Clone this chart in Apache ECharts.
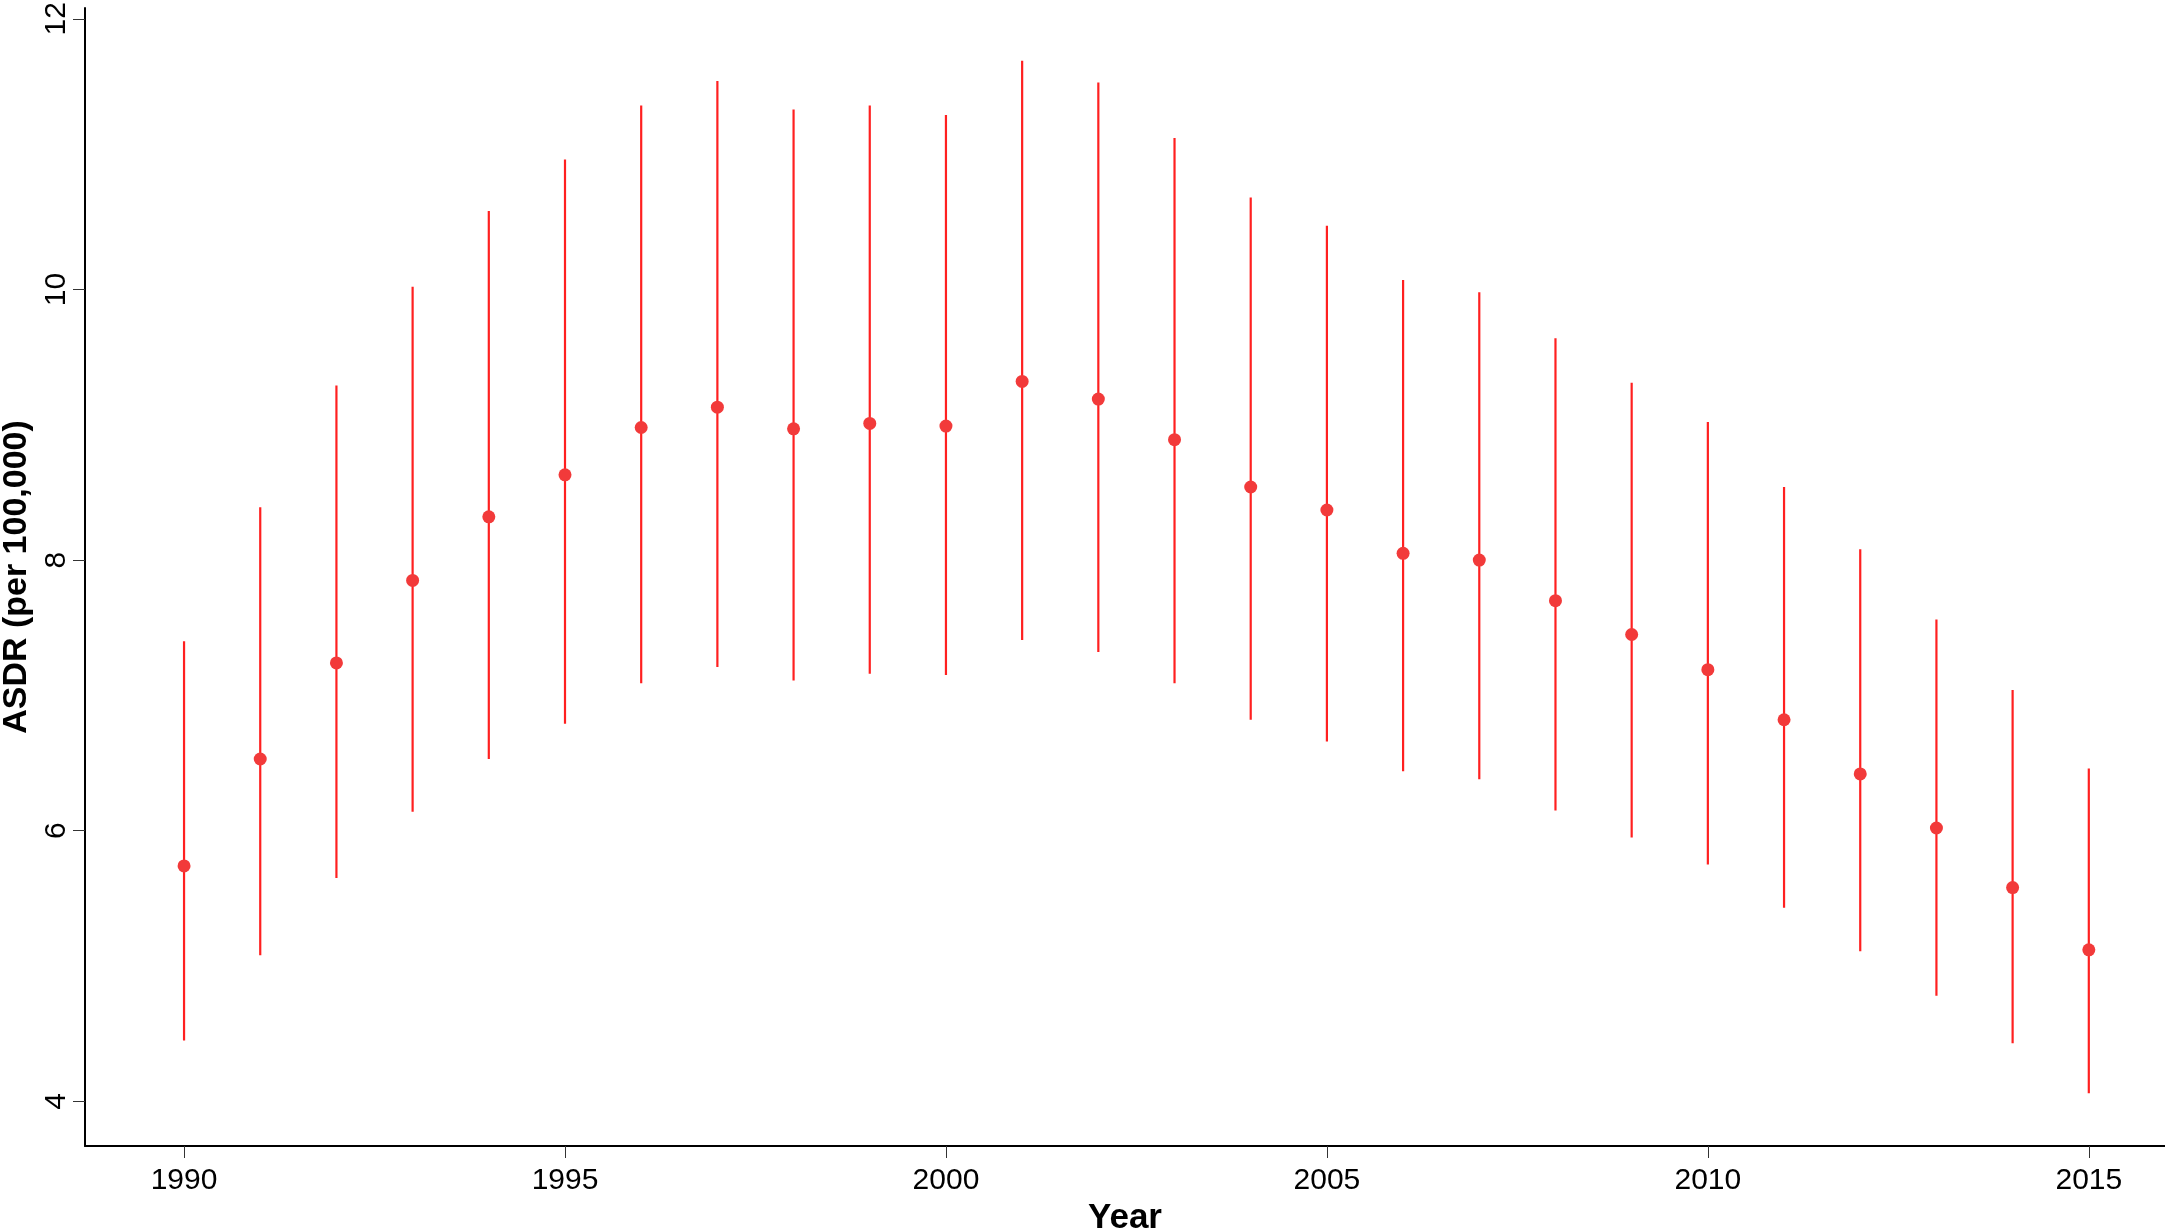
<!DOCTYPE html>
<html>
<head>
<meta charset="utf-8">
<script src="https://cdn.jsdelivr.net/npm/echarts@6/dist/echarts.min.js"></script>
<style>
html,body{margin:0;padding:0;background:#fff;}
#chart{width:2165px;height:1231px;}
</style>
</head>
<body>
<div id="chart"></div>
<script>
const years = [1990,1991,1992,1993,1994,1995,1996,1997,1998,1999,2000,2001,2002,2003,2004,2005,2006,2007,2008,2009,2010,2011,2012,2013,2014,2015];
const asdr  = [5.74,6.53,7.24,7.85,8.32,8.63,8.98,9.13,8.97,9.01,8.99,9.32,9.19,8.89,8.54,8.37,8.05,8.00,7.70,7.45,7.19,6.82,6.42,6.02,5.58,5.12];
const upper = [7.40,8.39,9.29,10.02,10.58,10.96,11.36,11.54,11.33,11.36,11.29,11.69,11.53,11.12,10.68,10.47,10.07,9.98,9.64,9.31,9.02,8.54,8.08,7.56,7.04,6.46];
const lower = [4.45,5.08,5.65,6.14,6.53,6.79,7.09,7.21,7.11,7.16,7.15,7.41,7.32,7.09,6.82,6.66,6.44,6.38,6.15,5.95,5.75,5.43,5.11,4.78,4.43,4.06];
const xTicks = [1990,1995,2000,2005,2010,2015];
const yTicks = [4,6,8,10,12];

const barData = years.map((y,i)=>[y, lower[i], upper[i]]);
const pointData = years.map((y,i)=>[y, asdr[i]]);

const chart = echarts.init(document.getElementById('chart'));
chart.setOption({
  animation:false,
  backgroundColor:'#fff',
  grid:{left:85,right:0,top:8,bottom:85,containLabel:false,outerBoundsMode:'none'},
  xAxis:{
    type:'value',min:1988.7,max:2016.0,
    name:'Year',nameLocation:'middle',nameGap:50,
    nameTextStyle:{fontFamily:'Liberation Sans',fontWeight:'bold',fontSize:35,color:'#000'},
    axisLine:{show:true,onZero:false,lineStyle:{color:'#000',width:2}},
    axisTick:{show:true,customValues:xTicks,length:12,lineStyle:{color:'#333',width:1}},
    axisLabel:{customValues:xTicks,formatter:v=>String(v),fontFamily:'Liberation Sans',fontSize:30,color:'#000',margin:20},
    splitLine:{show:false}
  },
  yAxis:{
    type:'value',min:3.67,max:12.08,
    name:'ASDR (per 100,000)',nameLocation:'middle',nameGap:48,
    nameTextStyle:{fontFamily:'Liberation Sans',fontWeight:'bold',fontSize:34,color:'#000'},
    axisLine:{show:true,onZero:false,lineStyle:{color:'#000',width:2}},
    axisTick:{show:true,customValues:yTicks,length:12,lineStyle:{color:'#333',width:1}},
    axisLabel:{customValues:yTicks,formatter:v=>String(v),rotate:90,fontFamily:'Liberation Sans',fontSize:30,color:'#000',margin:13},
    splitLine:{show:false}
  },
  series:[
    {
      type:'custom',
      data:barData,
      renderItem:function(params, api){
        const lo = api.coord([api.value(0), api.value(1)]);
        const hi = api.coord([api.value(0), api.value(2)]);
        return {type:'line',shape:{x1:lo[0],y1:lo[1],x2:hi[0],y2:hi[1]},
          style:{stroke:'#ff2020',lineWidth:2.2}};
      },
      z:2
    },
    {
      type:'scatter',
      data:pointData,
      symbol:'circle',symbolSize:13,
      itemStyle:{color:'#f23a3a',opacity:1},
      z:3
    }
  ]
});
</script>
</body>
</html>
